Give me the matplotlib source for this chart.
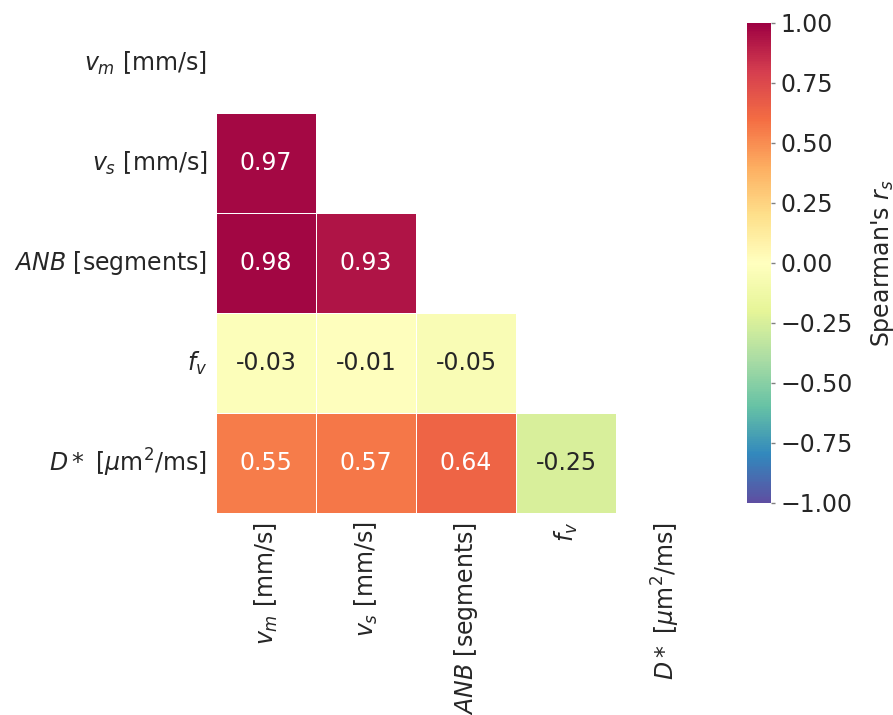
import numpy as np
import pandas as pd
import seaborn as sns
import matplotlib.pyplot as plt

labels = ['$v_m$ [mm/s]', '$v_s$ [mm/s]', '$ANB$ [segments]', '$f_v$',
          '$D*$ [$\\mu$m$^2$/ms]']

# lower triangle of the Spearman correlation matrix (row by row)
row_vs = [0.97]
row_anb = [0.98, 0.93]
row_fv = [-0.03, -0.01, -0.05]
row_dstar = [0.55, 0.57, 0.64, -0.25]

cbar_ticks = [-1, -0.75, -0.5, -0.25, 0, 0.25, 0.5, 0.75, 1]

n = len(labels)
corr = np.eye(n)
for i, row in enumerate([row_vs, row_anb, row_fv, row_dstar], start=1):
    corr[i, :len(row)] = row
    corr[:len(row), i] = row
corr = pd.DataFrame(corr, index=labels, columns=labels)

# hide the upper triangle and the diagonal
mask = np.triu(np.ones((n, n), dtype=bool))

sns.set_theme(style='white', font_scale=1.6)
fs = 17

fig = plt.figure(figsize=(8.93, 7.15), dpi=100)
ax = fig.add_axes([216 / 893, 202 / 715, 500 / 893, 500 / 715])
cax = fig.add_axes([747 / 893, 212 / 715, 24 / 893, 480 / 715])

sns.heatmap(corr, mask=mask, cmap='Spectral_r', vmin=-1, vmax=1,
            annot=True, fmt='.2f', linewidths=0.5, linecolor='white',
            square=True, ax=ax, cbar_ax=cax,
            annot_kws={'fontsize': fs})

ax.set_yticklabels(labels, rotation=0, fontsize=fs)
ax.set_xticklabels(labels, rotation=90, fontsize=fs)
ax.tick_params(length=0, pad=6.5)

cax.set_yticks(cbar_ticks)
cax.set_yticklabels([f'{t:.2f}'.replace('-', '\u2212') for t in cbar_ticks])
cax.tick_params(length=3, width=1, color='0.5', labelsize=fs, pad=3.5)
cax.set_ylabel("Spearman's $r_s$", fontsize=fs, labelpad=12)
for s in cax.spines.values():
    s.set_visible(False)

fig.savefig('out.png', dpi=100)
